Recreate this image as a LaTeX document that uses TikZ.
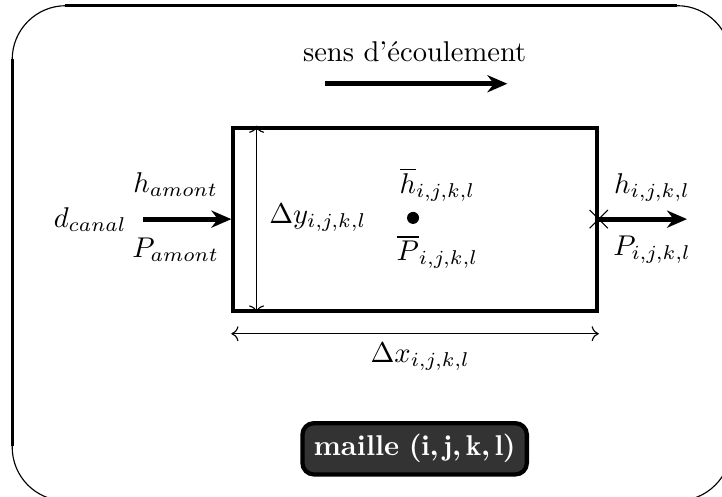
\documentclass[tikz,border=0pt]{standalone}
\usepackage{fontspec}
\usepackage{amsmath}
\usetikzlibrary{arrows.meta,positioning,shapes.misc}
\definecolor{mailledark}{HTML}{333333}
\newcommand{\bvirg}{\mathpunct{\boldsymbol{,}}}
\newcommand{\mailletxt}{\textbf{maille} $\boldsymbol{(}\mathbf{i}\bvirg\mathbf{j}\bvirg\mathbf{k}\bvirg\mathbf{l}\boldsymbol{)}$}

\begin{document}
\begin{tikzpicture}[>=Stealth,
  flux/.style={line width=1.7pt,-{Stealth[length=7pt,width=6pt]}},
  cote/.style={thin,{To[length=2.5pt]}-{To[length=2.5pt]}},
  etiquette/.style={fill=mailledark,draw=black,line width=1.5pt,rounded corners=4pt,text=white,minimum width=2.76cm,minimum height=0.63cm}]
  \useasboundingbox (0,0) rectangle (8.88,6.11);
  % cadre
  \draw[line width=0.4pt,rounded corners=0.66cm] (0.15,-0.05) rectangle (8.99,6.04);
  \draw[line width=1pt] (0.80,6.04) -- (8.33,6.04);
  \draw[line width=1pt] (0.15,5.38) -- (0.15,0.62);
  % maille
  \node[draw,line width=1.4pt,minimum width=4.47cm,minimum height=2.25cm,inner sep=0] (cell) at (5.105,3.415) {};
  \node[circle,fill,inner sep=0,minimum size=4.2pt] (centre) at (5.08,3.43) {};
  \node (hbar) at (5.38,3.84) {$\overline{h}_{i,j,k,l}$};
  \node (pbar) at (5.38,3.01) {$\overline{P}_{i,j,k,l}$};
  % dimensions
  \coordinate (dyhaut) at ([xshift=0.31cm]cell.north west);
  \coordinate (dybas) at ([xshift=0.31cm]cell.south west);
  \draw[cote] (dyhaut) -- (dybas);
  \node (dy) at (3.91,3.43) {$\Delta y_{i,j,k,l}$};
  \coordinate (dxg) at ([yshift=-0.26cm]cell.south west);
  \coordinate (dxd) at ([yshift=-0.26cm]cell.south east);
  \draw[cote] (dxg) -- (dxd);
  \node (dx) at (5.17,1.72) {$\Delta x_{i,j,k,l}$};
  % amont
  \coordinate (amont) at (1.76,3.415);
  \draw[flux] (amont) -- (cell.west);
  \node (dcanal) at (1.11,3.41) {$d_{canal}$};
  \node (hamont) at (2.16,3.84) {$h_{amont}$};
  \node (pamont) at (2.16,3.04) {$P_{amont}$};
  % aval
  \node[cross out,draw,thin,minimum size=6pt,inner sep=0] (sortie) at (cell.east) {};
  \coordinate (aval) at (8.45,3.415);
  \draw[flux] (sortie.center) -- (aval);
  \node (haval) at (8.02,3.80) {$h_{i,j,k,l}$};
  \node (paval) at (8.02,3.04) {$P_{i,j,k,l}$};
  % sens d'ecoulement
  \node (sens) at (5.10,5.47) {sens d'écoulement};
  \coordinate (sensg) at (4.00,5.08);
  \coordinate (sensd) at (6.24,5.08);
  \draw[flux] (sensg) -- (sensd);
  % etiquette
  \node[etiquette] (maille) at (5.10,0.59) {\mailletxt};
\end{tikzpicture}
\end{document}
